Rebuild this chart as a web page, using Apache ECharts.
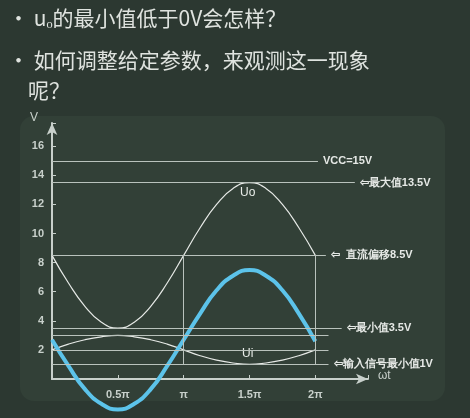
<!DOCTYPE html>
<html>
<head>
<meta charset="utf-8">
<script src="https://cdn.jsdelivr.net/npm/echarts@6/dist/echarts.min.js"></script>
<style>
  html, body { margin: 0; padding: 0; background: #2c3831; }
  #chart { width: 470px; height: 418px; }
</style>
</head>
<body>
<div id="chart"></div>
<script>
// x in units of pi, sampled every pi/8
var phase = [0, 0.125, 0.25, 0.375, 0.5, 0.625, 0.75, 0.875, 1, 1.125, 1.25, 1.375, 1.5, 1.625, 1.75, 1.875, 2];
var uo = [8.5, 6.6, 5.0, 3.9, 3.5, 3.9, 5.0, 6.6, 8.5, 10.4, 12.0, 13.1, 13.5, 13.1, 12.0, 10.4, 8.5];
var ui = [2, 2.4, 2.7, 2.9, 3, 2.9, 2.7, 2.4, 2, 1.6, 1.3, 1.1, 1, 1.1, 1.3, 1.6, 2];
var shifted = [2.7, 0.9, -0.7, -1.7, -2.1, -1.7, -0.7, 0.9, 2.7, 4.5, 6.1, 7.1, 7.5, 7.1, 6.1, 4.5, 2.6];
var xTicks = { 0.5: "0.5π", 1: "π", 1.5: "1.5π", 2: "2π" };
var refLines = [
  { y: 15, end: 2.02, text: "VCC=15V" },
  { y: 13.5, end: 2.3, text: "⇦最大值13.5V" },
  { y: 8.5, end: 2.08, text: "⇦  直流偏移8.5V" },
  { y: 3.5, end: 2.2, text: "⇦最小值3.5V" },
  { y: 3.0, end: 2.1, text: "" },
  { y: 2.0, end: 2.1, text: "" },
  { y: 1.0, end: 2.1, text: "⇦输入信号最小值1V" }
];

function zip(xs, ys) {
  return xs.map(function (x, i) { return [x, ys[i]]; });
}

var markData = refLines.map(function (r) {
  return [
    { coord: [0, r.y] },
    { coord: [r.end, r.y], label: { show: !!r.text, formatter: r.text } }
  ];
});
markData.push([{ coord: [1, 1] }, { coord: [1, 8.5], label: { show: false } }]);
markData.push([{ coord: [2, 1] }, { coord: [2, 8.5], label: { show: false } }]);
// y axis continues a little below the time axis
markData.push([{ coord: [0, 0] }, { coord: [0, -1.6], label: { show: false }, lineStyle: { color: "#c8d0cb", width: 2 } }]);

var chart = echarts.init(document.getElementById("chart"));
var txt = { fill: "#dfe3df", fontSize: 21, fontFamily: "Noto Sans CJK SC" };

chart.setOption({
  backgroundColor: "#2c3831",
  animation: false,
  graphic: [
    { type: "rect", shape: { x: 20, y: 116, width: 425, height: 285, r: 14 }, style: { fill: "#324037" }, z: -10 },
    { type: "text", left: 8, top: 8, style: Object.assign({ text: "• u\u2092的最小值低于0V会怎样？" }, txt) },
    { type: "text", left: 8, top: 50, style: Object.assign({ text: "• 如何调整给定参数，来观测这一现象" }, txt) },
    { type: "text", left: 28, top: 80, style: Object.assign({ text: "呢？" }, txt) },
    { type: "text", left: 30, top: 112, style: { text: "V", fill: "#c8d0cb", fontSize: 12 } },
    { type: "text", left: 378, top: 370, style: { text: "ωt", fill: "#c8d0cb", fontSize: 12 } },
    { type: "text", left: 240, top: 187, style: { text: "Uo", fill: "#e8ece8", fontSize: 12 } },
    { type: "text", left: 242, top: 348, style: { text: "Ui", fill: "#e8ece8", fontSize: 12 } }
  ],
  grid: { left: 52, right: 102, top: 123, bottom: 39 },
  xAxis: {
    type: "value", min: 0, max: 2.4, interval: 0.5,
    axisLine: { symbol: ["none", "arrow"], symbolSize: [8, 12], lineStyle: { color: "#c8d0cb", width: 2 } },
    axisTick: { show: true, inside: true, length: 4, lineStyle: { color: "#c8d0cb" } },
    axisLabel: { color: "#c8d0cb", fontSize: 11, fontWeight: "bold", margin: 10,
      formatter: function (v) { return xTicks[v] || ""; } },
    splitLine: { show: false }
  },
  yAxis: {
    type: "value", min: 0, max: 17.6, interval: 2,
    axisLine: { show: true, symbol: ["none", "arrow"], symbolSize: [8, 12], lineStyle: { color: "#c8d0cb", width: 2 } },
    axisTick: { show: true, inside: true, length: 4, lineStyle: { color: "#c8d0cb" } },
    axisLabel: { color: "#c8d0cb", fontSize: 11, fontWeight: "bold",
      formatter: function (v) { return v > 0 && v <= 16 ? String(v) : ""; } },
    splitLine: { show: false }
  },
  series: [
    {
      type: "line", data: zip(phase, uo), smooth: true, symbol: "none",
      lineStyle: { color: "#e6e9e6", width: 1.2 },
      markLine: {
        symbol: "none", silent: true, clip: false,
        lineStyle: { color: "#b9c2bc", width: 1, type: "solid" },
        label: { position: "end", color: "#e6e9e6", fontSize: 11, fontWeight: "bold" },
        data: markData
      }
    },
    {
      type: "line", data: zip(phase, ui), smooth: true, symbol: "none",
      lineStyle: { color: "#e6e9e6", width: 1.2 }
    },
    {
      type: "line", data: zip(phase, shifted), smooth: true, symbol: "none", clip: false,
      lineStyle: { color: "#5cc3ea", width: 4 }
    }
  ]
});
</script>
</body>
</html>
